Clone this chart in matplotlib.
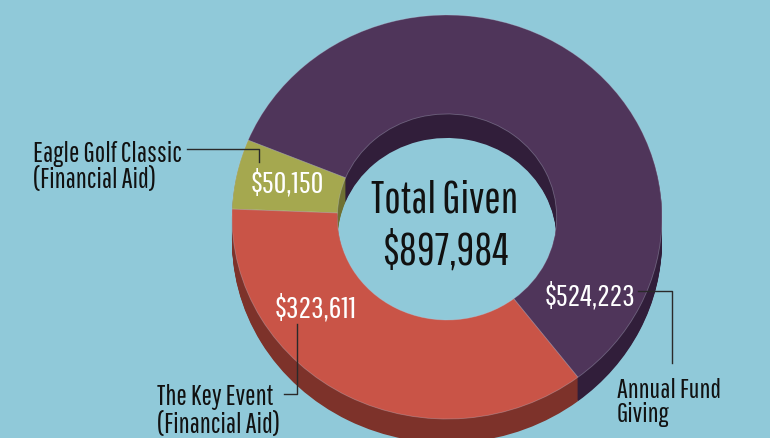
import matplotlib
matplotlib.use("Agg")
import matplotlib.pyplot as plt

# ---- data ----
categories = ["Annual Fund Giving", "Eagle Golf Classic (Financial Aid)", "The Key Event (Financial Aid)"]
values = [524223, 50150, 323611]
value_labels = ["$524,223", "$50,150", "$323,611"]
total_label = "$897,984"
title_label = "Total Given"

top_colors = ["#4f355a", "#a5a84f", "#c95447"]
side_colors = ["#311e3a", "#6f7133", "#7d322a"]
bg = "#90c9d9"

FONT = ["Pathway Gothic One", "Oswald", "DejaVu Sans"]

W, H = 770, 439
fig = plt.figure(figsize=(W / 100, H / 100), dpi=100)
fig.patch.set_facecolor(bg)

# pie axes: 1 data unit = 1 px horizontally, vertical squashed by k
rx, ry = 215.0, 202.0
k = rx / ry
cx, cy_px = 447.0, 218.0
depth = 24

ax = fig.add_axes([0, 0, 1, 1])
ax.set_facecolor(bg)

def ydata(p):
    return (H - p) * k

center = (cx, ydata(cy_px))
start = -52.5
ring = 0.49

# side walls: stack of darker pies shifted downward
for d in range(depth, 0, -1):
    ax.pie(values, radius=rx, center=(cx, ydata(cy_px + d)), startangle=start,
           colors=side_colors, wedgeprops=dict(width=rx * ring, linewidth=0),
           frame=True)
# top face
ax.pie(values, radius=rx, center=center, startangle=start, colors=top_colors,
       wedgeprops=dict(width=rx * ring, linewidth=0.6, edgecolor=(0.75, 0.78, 0.85, 0.35)),
       frame=True)

ax.set_aspect("auto")
ax.set_xlim(0, W)
ax.set_ylim(0, H * k)
ax.axis("off")

# overlay for text in pixel coordinates (y down)
ov = fig.add_axes([0, 0, 1, 1])
ov.set_xlim(0, W)
ov.set_ylim(H, 0)
ov.axis("off")
ov.patch.set_alpha(0)

ink = "#111111"
lc = "#2a2a2a"
lw = 1.0

ov.text(445, 213, title_label, ha="center", va="baseline", fontsize=31.5, color=ink, family=FONT)
ov.text(446, 265, total_label, ha="center", va="baseline", fontsize=31.5, color=ink, family=FONT)

# value labels
ov.text(590, 305, value_labels[0], ha="center", va="baseline", fontsize=22.5, color="white", family=FONT)
ov.text(287, 192, value_labels[1], ha="center", va="baseline", fontsize=22.5, color="white", family=FONT)
ov.text(316, 317, value_labels[2], ha="center", va="baseline", fontsize=22.5, color="white", family=FONT)

# category labels
ov.text(33, 162, "Eagle Golf Classic", ha="left", va="baseline", fontsize=20, color=ink, family=FONT)
ov.text(33, 188, "(Financial Aid)", ha="left", va="baseline", fontsize=20, color=ink, family=FONT)
ov.text(157, 405, "The Key Event", ha="left", va="baseline", fontsize=20, color=ink, family=FONT)
ov.text(157, 433, "(Financial Aid)", ha="left", va="baseline", fontsize=20, color=ink, family=FONT)
ov.text(617, 398, "Annual Fund", ha="left", va="baseline", fontsize=19.7, color=ink, family=FONT)
ov.text(617, 422, "Giving", ha="left", va="baseline", fontsize=19.7, color=ink, family=FONT)

# leader lines
ov.plot([187, 259, 259], [150, 150, 163], color=lc, lw=lw)
ov.plot([638, 672, 672], [292, 292, 364], color=lc, lw=lw)
ov.plot([297, 297, 284], [325, 395, 395], color=lc, lw=lw)

fig.savefig("out.png", dpi=100, facecolor=bg)
